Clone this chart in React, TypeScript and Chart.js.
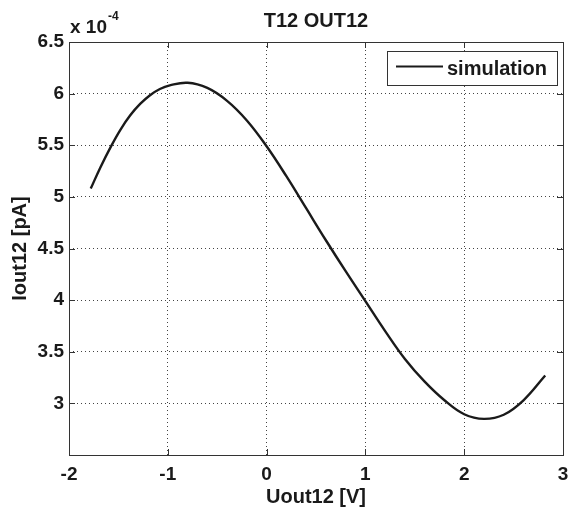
import React, { useEffect, useRef } from "react";
import { Chart, registerables } from "chart.js";

Chart.register(...registerables);

const titleText = "T12 OUT12";
const xLabel = "Uout12 [V]";
const yLabel = "Iout12 [pA]";
const seriesLabel = "simulation";
const exponentBase = "x 10";
const exponentPower = "-4";

const xTicks = [-2, -1, 0, 1, 2, 3];
const yTicks = [2.5, 3, 3.5, 4, 4.5, 5, 5.5, 6, 6.5];

const uOut = [-1.78, -1.68, -1.58, -1.48, -1.38, -1.28, -1.18, -1.08, -0.98, -0.8, -0.6, -0.4, -0.2, 0.0, 0.2, 0.4, 0.6, 0.8, 1.0, 1.2, 1.4, 1.6, 1.8, 2.0, 2.2, 2.4, 2.6, 2.82];
const iOut = [5.08, 5.29, 5.48, 5.65, 5.79, 5.9, 5.985, 6.045, 6.08, 6.105, 6.055, 5.93, 5.74, 5.49, 5.2, 4.89, 4.58, 4.28, 3.99, 3.7, 3.43, 3.21, 3.03, 2.895, 2.85, 2.89, 3.03, 3.27];

const FONT = "'Liberation Sans', Arial, Helvetica, sans-serif";
const INK = "#1a1a1a";

const decorPlugin = {
  id: "decor",
  beforeDraw(chart: any) {
    const ctx = chart.ctx;
    ctx.save();
    ctx.fillStyle = "#ffffff";
    ctx.fillRect(0, 0, chart.width, chart.height);
    ctx.restore();
  },
  afterDraw(chart: any) {
    const ctx = chart.ctx;
    const { left, right, top, bottom } = chart.chartArea;
    const xs = chart.scales.x;
    const ys = chart.scales.y;
    ctx.save();
    // box
    ctx.strokeStyle = "#333";
    ctx.lineWidth = 1;
    ctx.strokeRect(Math.round(left) + 0.5, Math.round(top) + 0.5, Math.round(right - left), Math.round(bottom - top));
    // inward ticks
    const tl = 6;
    ctx.beginPath();
    xTicks.forEach((v) => {
      const p = Math.round(xs.getPixelForValue(v)) + 0.5;
      ctx.moveTo(p, bottom);
      ctx.lineTo(p, bottom - tl);
      ctx.moveTo(p, top);
      ctx.lineTo(p, top + tl);
    });
    yTicks.forEach((v) => {
      const p = Math.round(ys.getPixelForValue(v)) + 0.5;
      ctx.moveTo(left, p);
      ctx.lineTo(left + tl, p);
      ctx.moveTo(right, p);
      ctx.lineTo(right - tl, p);
    });
    ctx.stroke();

    // title
    ctx.fillStyle = INK;
    ctx.font = `bold 20px ${FONT}`;
    ctx.textAlign = "center";
    ctx.textBaseline = "alphabetic";
    ctx.fillText(titleText, (left + right) / 2, 27);

    // exponent
    ctx.textAlign = "left";
    ctx.font = `bold 19px ${FONT}`;
    ctx.fillText(exponentBase, left + 1, 33);
    const w = ctx.measureText(exponentBase).width;
    ctx.font = `bold 12px ${FONT}`;
    ctx.fillText(exponentPower, left + 1 + w + 1, 20);

    // legend
    const lx = 387, ly = 51, lw = 170, lh = 34;
    ctx.fillStyle = "#ffffff";
    ctx.fillRect(lx, ly, lw, lh);
    ctx.strokeStyle = "#333";
    ctx.lineWidth = 1;
    ctx.strokeRect(lx + 0.5, ly + 0.5, lw, lh);
    ctx.strokeStyle = INK;
    ctx.lineWidth = 2;
    ctx.beginPath();
    ctx.moveTo(396, 66.5);
    ctx.lineTo(443, 66.5);
    ctx.stroke();
    ctx.fillStyle = INK;
    ctx.font = `bold 20px ${FONT}`;
    ctx.textAlign = "left";
    ctx.fillText(chart.data.datasets[0].label, 447, 75);
    ctx.restore();
  },
};

export default function App() {
  const ref = useRef<HTMLCanvasElement>(null);
  useEffect(() => {
    if (!ref.current) return;
    const data = uOut.map((x, i) => ({ x, y: iOut[i] }));
    const chart = new Chart(ref.current, {
      type: "scatter",
      data: {
        datasets: [
          {
            label: seriesLabel,
            data,
            showLine: true,
            borderColor: INK,
            borderWidth: 2.4,
            pointRadius: 0,
            tension: 0.4,
          } as any,
        ],
      },
      plugins: [decorPlugin],
      options: {
        animation: false,
        responsive: false,
        devicePixelRatio: 1,
        layout: { padding: { left: 0, right: 5, top: 42, bottom: 0 } },
        plugins: { legend: { display: false }, title: { display: false }, tooltip: { enabled: false } },
        scales: {
          x: {
            type: "linear",
            min: -2,
            max: 3,
            afterFit: (s: any) => {
              s.height = 55;
              s.paddingLeft = 0;
              s.paddingRight = 0;
            },
            afterBuildTicks: (s: any) => {
              s.ticks = xTicks.map((v) => ({ value: v }));
            },
            ticks: {
              color: INK,
              font: { family: FONT, size: 19, weight: "bold" },
              padding: 8,
              maxRotation: 0,
              callback: (v: any) => String(v),
            },
            grid: { color: "#444", lineWidth: 1, drawTicks: false },
            border: { display: false, dash: [1, 3] },
            title: {
              display: true,
              text: xLabel,
              color: INK,
              font: { family: FONT, size: 20, weight: "bold" },
              padding: { top: 0, bottom: 1 },
            },
          },
          y: {
            type: "linear",
            min: 2.5,
            max: 6.5,
            afterFit: (s: any) => {
              s.width = 69;
            },
            afterBuildTicks: (s: any) => {
              s.ticks = yTicks.map((v) => ({ value: v }));
            },
            ticks: {
              color: INK,
              font: { family: FONT, size: 19, weight: "bold" },
              padding: 5,
              callback: (v: any) => (v === 2.5 ? "" : String(v)),
            },
            grid: { color: "#444", lineWidth: 1, drawTicks: false },
            border: { display: false, dash: [1, 3] },
            title: {
              display: true,
              text: yLabel,
              color: INK,
              font: { family: FONT, size: 20, weight: "bold" },
              padding: { top: 8, bottom: 0 },
            },
          },
        },
      } as any,
    });
    return () => chart.destroy();
  }, []);
  return (
    <div style={{ position: "absolute", left: 0, top: 0, width: 568, height: 510 }}>
      <canvas ref={ref} width={568} height={510} style={{ width: 568, height: 510 }} />
    </div>
  );
}
